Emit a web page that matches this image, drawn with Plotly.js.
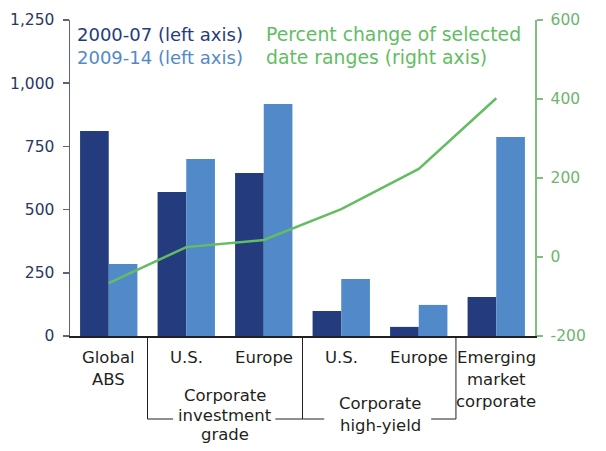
<!DOCTYPE html>
<html>
<head>
<meta charset="utf-8">
<script src="https://cdn.plot.ly/plotly-3.0.1.min.js"></script>
<style>html,body{margin:0;padding:0;background:#fff}#chart{width:606px;height:451px}</style>
</head>
<body>
<div id="chart"></div>
<script>
// Data
const categories = ["Global ABS", "IG U.S.", "IG Europe", "HY U.S.", "HY Europe", "Emerging market corporate"];
const categoryLabels = [["Global", "ABS"], ["U.S."], ["Europe"], ["U.S."], ["Europe"], ["Emerging", "market", "corporate"]];
const groupLabels = [["Corporate", "investment", "grade"], ["Corporate", "high-yield"]];
const series2000_07 = [811, 570, 645, 99, 36, 154];
const series2009_14 = [285, 700, 918, 225, 123, 787];
const percentChange = [-66, 25, 43, 121, 223, 402];
const leftTicks = [0, 250, 500, 750, 1000, 1250];
const leftTickText = ["0", "250", "500", "750", "1,000", "1,250"];
const rightTicks = [-200, 0, 200, 400, 600];
const rightTickText = ["-200", "0", "200", "400", "600"];
const legendNames = ["2000-07 (left axis)", "2009-14 (left axis)", "Percent change of selected", "date ranges (right axis)"];

const navy = "#243c7e", blue = "#5289c9", green = "#62bd63";
const font = "'DejaVu Sans', sans-serif";
const textDark = "#231f20";

// layout helpers (pixel -> paper for plot area 20..336)
const plotTop = 20, plotBottom = 336;
const py = p => (plotBottom - p) / (plotBottom - plotTop);

const traces = [
  {type: "bar", x: categories, y: series2000_07, name: legendNames[0], marker: {color: navy}, yaxis: "y"},
  {type: "bar", x: categories, y: series2009_14, name: legendNames[1], marker: {color: blue}, yaxis: "y"},
  {type: "scatter", mode: "lines", x: categories, y: percentChange, name: "Percent change", line: {color: green, width: 2.5}, yaxis: "y2"}
];

const annotations = [];
const catFirstLine = 357.5, catLineStep = 22;
categoryLabels.forEach((lines, i) => {
  lines.forEach((t, j) => {
    annotations.push({x: categories[i], xref: "x", y: py(catFirstLine + j * catLineStep), yref: "paper", text: t, showarrow: false,
      yanchor: "middle", xanchor: "center", font: {family: font, size: 16.5, color: textDark}});
  });
});
const groupCenters = [1.5, 3.5];
const groupFirst = [395, 403];
const groupStep = [20, 22];
groupLabels.forEach((lines, g) => {
  lines.forEach((t, j) => {
    annotations.push({x: groupCenters[g], xref: "x", y: py(groupFirst[g] + j * groupStep[g]), yref: "paper", text: t, showarrow: false,
      yanchor: "middle", xanchor: "center", font: {family: font, size: 16.5, color: textDark}});
  });
});
const legendPos = [[78, 34, navy, 18], [78, 58, blue, 18], [267, 34, green, 18.8], [267, 58, green, 18.8]];
legendNames.forEach((t, i) => {
  annotations.push({x: (legendPos[i][0] - 70) / 465, xref: "paper", y: py(legendPos[i][1]), yref: "paper", text: t, showarrow: false,
    xanchor: "left", yanchor: "middle", xshift: -3, font: {family: font, size: legendPos[i][3], color: legendPos[i][2]}});
});

const bline = {color: textDark, width: 1};
const bottomY = py(419);
const shapes = [
  {type: "line", xref: "x", yref: "paper", x0: 0.5, x1: 0.5, y0: 0, y1: bottomY, line: bline},
  {type: "line", xref: "x", yref: "paper", x0: 2.5, x1: 2.5, y0: 0, y1: bottomY, line: bline},
  {type: "line", xref: "x", yref: "paper", x0: 4.48, x1: 4.48, y0: 0, y1: bottomY, line: bline},
  {type: "line", xref: "x", yref: "paper", x0: 0.5, x1: 0.83, y0: bottomY, y1: bottomY, line: bline},
  {type: "line", xref: "x", yref: "paper", x0: 2.15, x1: 2.5, y0: bottomY, y1: bottomY, line: bline},
  {type: "line", xref: "x", yref: "paper", x0: 2.5, x1: 2.78, y0: bottomY, y1: bottomY, line: bline},
  {type: "line", xref: "x", yref: "paper", x0: 4.16, x1: 4.48, y0: bottomY, y1: bottomY, line: bline}
];

const layout = {
  width: 606, height: 451,
  margin: {l: 70, r: 71, t: 20, b: 115},
  paper_bgcolor: "#fff", plot_bgcolor: "#fff",
  showlegend: false,
  barmode: "group", bargap: 0.26, bargroupgap: 0,
  font: {family: font},
  xaxis: {type: "category", range: [-0.5, 5.5], showticklabels: false, ticks: "", showgrid: false, zeroline: false,
    showline: true, linecolor: textDark, linewidth: 1.5, fixedrange: true},
  yaxis: {range: [0, 1250], tickvals: leftTicks, ticktext: leftTickText, showgrid: false, zeroline: false,
    showline: true, linecolor: "#5d6478", linewidth: 1.5, ticks: "outside", ticklen: 6, tickcolor: "#5d6478", tickwidth: 1.5,
    ticklabelstandoff: 5, tickfont: {family: font, size: 15.5, color: "#2b3763"}},
  yaxis2: {range: [-200, 600], overlaying: "y", side: "right", tickvals: rightTicks, ticktext: rightTickText, showgrid: false, zeroline: false,
    showline: true, linecolor: "#7fbf80", linewidth: 1.5, ticks: "outside", ticklen: 6, tickcolor: "#7fbf80", tickwidth: 1.5,
    ticklabelstandoff: 5, tickfont: {family: font, size: 15.5, color: "#6db56e"}},
  annotations: annotations,
  shapes: shapes
};

Plotly.newPlot("chart", traces, layout, {displayModeBar: false, staticPlot: true});
</script>
</body>
</html>
